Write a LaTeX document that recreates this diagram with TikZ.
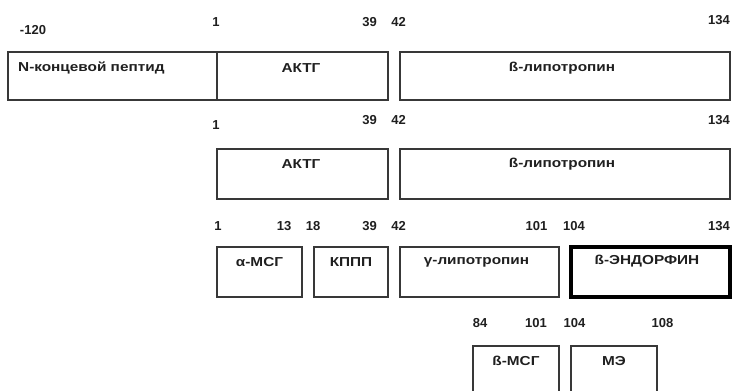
\documentclass[tikz,border=0pt]{standalone}
\usepackage{fontspec}
\setmainfont{Liberation Sans}
\newfontfamily\widesans[FakeStretch=1.18]{Liberation Sans}
\begin{document}
\begin{tikzpicture}[x=1pt,y=-1pt,
  box/.style={draw=black!78,line width=1.3pt},
  thickbox/.style={draw=black,line width=3.2pt},
  txt/.style={font=\widesans\fontsize{13}{15}\selectfont\bfseries,text=black!88,inner sep=0pt},
  num/.style={font=\fontsize{13}{15}\selectfont\bfseries,text=black!88,inner sep=0pt}]
\useasboundingbox (0,0) rectangle (734,391);
\clip (0,0) rectangle (734,391);
% row 1
\draw[box] (8,52) rectangle (217,100);
\draw[box] (217,52) rectangle (388,100);
\draw[box] (400,52) rectangle (730,100);
\node[txt,anchor=west] (t1a) at (18,68) {N-концевой пептид};
\node[txt] (t1b) at (301,68) {АКТГ};
\node[txt] (t1c) at (562,68) {ß-липотропин};
\node[num] (n1a) at (33,30) {-120};
\node[num] (n1b) at (216,22) {1};
\node[num] (n1c) at (369.5,22) {39};
\node[num] (n1d) at (398.5,22) {42};
\node[num] (n1e) at (719,20) {134};
% row 2
\draw[box] (217,149) rectangle (388,199);
\draw[box] (400,149) rectangle (730,199);
\node[txt] (t2a) at (301,164) {АКТГ};
\node[txt] (t2b) at (562,164) {ß-липотропин};
\node[num] (n2a) at (216,125) {1};
\node[num] (n2b) at (369.5,120) {39};
\node[num] (n2c) at (398.5,120) {42};
\node[num] (n2d) at (719,120) {134};
% row 3
\draw[box] (217,247) rectangle (302,297);
\draw[box] (314,247) rectangle (388,297);
\draw[box] (400,247) rectangle (559,297);
\draw[thickbox] (571,247) rectangle (730,297);
\node[txt] (t3a) at (259.5,262) {α-МСГ};
\node[txt] (t3b) at (351,262) {КППП};
\node[txt] (t3c) at (476.5,262) {γ-липотропин};
\node[txt] (t3d) at (647,261) {ß-ЭНДОРФИН};
\node[num] (n3a) at (218,226) {1};
\node[num] (n3b) at (284,226) {13};
\node[num] (n3c) at (313,226) {18};
\node[num] (n3d) at (369.5,226) {39};
\node[num] (n3e) at (398.5,226) {42};
\node[num] (n3f) at (536.5,226) {101};
\node[num] (n3g) at (574,226) {104};
\node[num] (n3h) at (719,226) {134};
% row 4
\draw[box] (473,346) rectangle (559,400);
\draw[box] (571,346) rectangle (657,400);
\node[txt] (t4a) at (516,361) {ß-МСГ};
\node[txt] (t4b) at (614,361) {МЭ};
\node[num] (n4a) at (480,323) {84};
\node[num] (n4b) at (536,323) {101};
\node[num] (n4c) at (574.5,323) {104};
\node[num] (n4d) at (662.5,323) {108};
\end{tikzpicture}
\end{document}
